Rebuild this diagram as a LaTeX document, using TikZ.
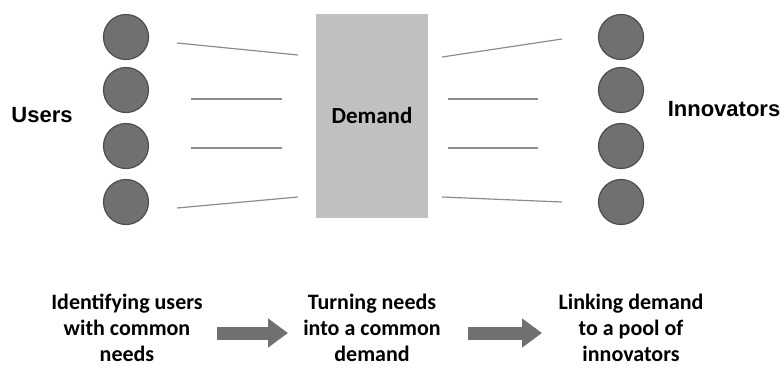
\documentclass[tikz,border=0pt]{standalone}
\usepackage{fontspec}
\setmainfont{Carlito}
\newfontfamily\labelfont{Liberation Sans}
\usetikzlibrary{arrows.meta}

\definecolor{dotfill}{HTML}{707070}
\definecolor{dotline}{HTML}{4E4E4E}
\definecolor{boxfill}{HTML}{C0C0C0}
\definecolor{linkgray}{HTML}{8C8C8C}

\begin{document}
\begin{tikzpicture}[x=1pt, y=-1pt,
	person/.style={circle, draw=dotline, fill=dotfill, line width=1.2pt, minimum size=45pt, inner sep=0pt},
	demandbox/.style={rectangle, fill=boxfill, minimum width=112pt, minimum height=204pt, font=\bfseries\fontsize{23}{27}\selectfont},
	side/.style={font=\labelfont\bfseries\fontsize{22}{26}\selectfont},
	stage/.style={align=center, inner sep=1pt, font=\bfseries\fontsize{22}{26}\selectfont},
	flow/.style={draw=dotfill, line width=13pt, -{Triangle[length=20pt, width=28pt]}},
	link/.style={draw=linkgray, line width=1.2pt},
	]
	\useasboundingbox (0, 0) rectangle (784, 368);

	\node[person] at (126, 37) (user1) {};
	\node[person] at (126, 90) (user2) {};
	\node[person] at (126, 146) (user3) {};
	\node[person] at (126, 202) (user4) {};

	\node[person] at (621, 37) (inno1) {};
	\node[person] at (621, 90) (inno2) {};
	\node[person] at (621, 146) (inno3) {};
	\node[person] at (621, 202) (inno4) {};

	\node[demandbox] at (372, 116) (demand) {Demand};
	\node[side] at (42, 115) (users) {Users};
	\node[side] at (724, 109) (innovators) {Innovators};

	% loose lines on both sides of the box
	\coordinate (l1a) at (177, 43);  \coordinate (l1b) at (298, 55);
	\coordinate (l2a) at (191, 99);  \coordinate (l2b) at (282, 99);
	\coordinate (l3a) at (191, 148); \coordinate (l3b) at (282, 148);
	\coordinate (l4a) at (177, 208); \coordinate (l4b) at (298, 197);
	\coordinate (r1a) at (442, 57);  \coordinate (r1b) at (562, 39);
	\coordinate (r2a) at (448, 99);  \coordinate (r2b) at (538, 99);
	\coordinate (r3a) at (448, 148); \coordinate (r3b) at (538, 148);
	\coordinate (r4a) at (442, 197); \coordinate (r4b) at (562, 202);

	\draw[link] (l1a) to (l1b);
	\draw[link] (l2a) to (l2b);
	\draw[link] (l3a) to (l3b);
	\draw[link] (l4a) to (l4b);
	\draw[link] (r1a) to (r1b);
	\draw[link] (r2a) to (r2b);
	\draw[link] (r3a) to (r3b);
	\draw[link] (r4a) to (r4b);

	% the three steps along the bottom
	\node[stage] at (127, 328) (identify) {Identifying users\\with common\\needs};
	\node[stage] at (372, 328) (turn) {Turning needs\\into a common\\demand};
	\node[stage] at (631, 328) (link) {Linking demand\\to a pool of\\innovators};

	\coordinate (s1a) at (217, 333); \coordinate (s1b) at (288, 333);
	\coordinate (s2a) at (468, 333); \coordinate (s2b) at (542, 333);
	\draw[flow] (s1a) to (s1b);
	\draw[flow] (s2a) to (s2b);
\end{tikzpicture}
\end{document}
